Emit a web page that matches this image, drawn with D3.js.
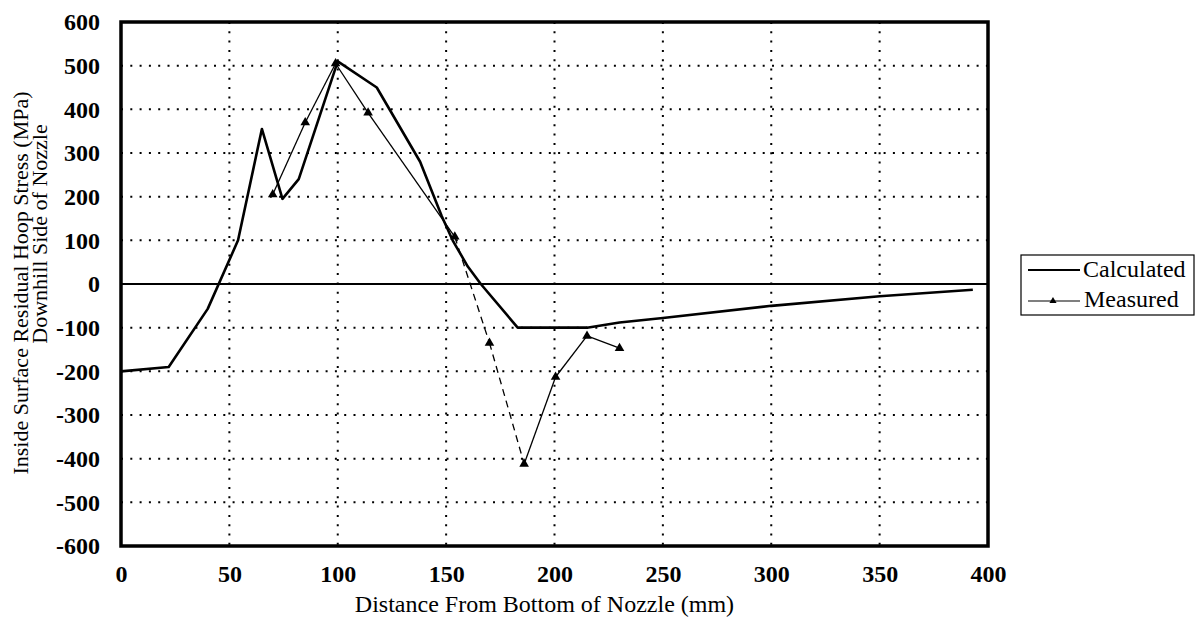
<!DOCTYPE html>
<html><head><meta charset="utf-8">
<script src="https://cdn.jsdelivr.net/npm/d3@7"></script>
<style>
body{margin:0;background:#fff;}
svg{display:block;}
text{font-family:"Liberation Serif","Times New Roman",serif !important;fill:#000;}
</style></head>
<body><svg id="c" width="1199" height="624"></svg>
<script>
const xTicks = [0,50,100,150,200,250,300,350,400];
const yTicks = [-600,-500,-400,-300,-200,-100,0,100,200,300,400,500,600];
const calcX = [0,22,40,54,65,74.5,82,100,118,138,148,153,160,166,183,215,230,250,300,350,393];
const calcY = [-200,-190,-57,100,355,195,240,510,450,280,155,100,40,0,-100,-100,-88,-78,-50,-28,-13];
const measX = [70,85,99,114,154,170,186,200.5,215,230];
const measY = [205,370,505,392,108,-135,-412,-213,-119,-147];
const seriesNames = ["Calculated","Measured"];
const xTitle = "Distance From Bottom of Nozzle (mm)";
const yTitle1 = "Inside Surface Residual Hoop Stress (MPa)";
const yTitle2 = "Downhill Side of Nozzle";

const svg = d3.select("#c");
const L=121, T=22, W=867, H=524;
const x = d3.scaleLinear().domain([0,400]).range([L,L+W]);
const y = d3.scaleLinear().domain([-600,600]).range([T+H,T]);
const fmt = d => String(d);

// grid
const g = svg.append("g");
g.selectAll(".vg").data(xTicks.filter(d=>d>0&&d<400)).enter().append("line")
 .attr("x1",d=>x(d)).attr("x2",d=>x(d)).attr("y1",T).attr("y2",T+H)
 .attr("stroke","#000").attr("stroke-width",2).attr("stroke-dasharray","2 7.3");
g.selectAll(".hg").data(yTicks.filter(d=>d>-600&&d<600&&d!==0)).enter().append("line")
 .attr("x1",L).attr("x2",L+W).attr("y1",d=>y(d)).attr("y2",d=>y(d))
 .attr("stroke","#000").attr("stroke-width",2).attr("stroke-dasharray","2 7.3");
g.append("line").attr("x1",L).attr("x2",L+W).attr("y1",y(0)).attr("y2",y(0))
 .attr("stroke","#000").attr("stroke-width",2.2);

// axes
const ya = svg.append("g").attr("transform",`translate(${L},0)`)
 .call(d3.axisLeft(y).tickValues(yTicks).tickSize(0).tickPadding(21).tickFormat(fmt));
ya.select(".domain").remove();
ya.selectAll("text").style("font-size","24px").style("font-weight","bold");
const xa = svg.append("g").attr("transform",`translate(0,${T+H})`)
 .call(d3.axisBottom(x).tickValues(xTicks).tickSize(0).tickPadding(19).tickFormat(fmt));
xa.select(".domain").remove();
xa.selectAll("text").style("font-size","24px").style("font-weight","bold");

// border
svg.append("rect").attr("x",L).attr("y",T).attr("width",W).attr("height",H)
 .attr("fill","none").attr("stroke","#000").attr("stroke-width",3.5);

// lines
const line = d3.line().x(d=>x(d[0])).y(d=>y(d[1]));
svg.append("path").datum(calcX.map((v,i)=>[v,calcY[i]])).attr("d",line)
 .attr("fill","none").attr("stroke","#000").attr("stroke-width",2.6).attr("stroke-linejoin","round");
const mData = measX.map((v,i)=>[v,measY[i]]);
const segs = d3.pairs(mData);
svg.selectAll(".seg").data(segs).enter().append("path")
 .attr("d",d=>line(d)).attr("fill","none").attr("stroke","#000").attr("stroke-width",1.3)
 .attr("stroke-dasharray",(d,i)=> (i===4||i===5) ? "7 5" : null);
const tri = d3.symbol().type(d3.symbolTriangle).size(40);
svg.selectAll(".m").data(mData).enter().append("path")
 .attr("d",tri).attr("transform",d=>`translate(${x(d[0])},${y(d[1])})`).attr("fill","#000");

// titles
svg.append("text").attr("x",L+W/2-10).attr("y",612).attr("text-anchor","middle")
 .style("font-size","24px").text(xTitle);
svg.append("text").attr("transform","translate(28,283) rotate(-90)").attr("text-anchor","middle")
 .style("font-size","22px").text(yTitle1);
svg.append("text").attr("transform","translate(47,234) rotate(-90)").attr("text-anchor","middle")
 .style("font-size","22px").text(yTitle2);

// legend
const lg = svg.append("g");
lg.append("rect").attr("x",1021).attr("y",255).attr("width",173).attr("height",60)
 .attr("fill","none").attr("stroke","#000").attr("stroke-width",1.2);
lg.append("line").attr("x1",1028).attr("x2",1080).attr("y1",270).attr("y2",270)
 .attr("stroke","#000").attr("stroke-width",2);
lg.append("text").attr("x",1083).attr("y",277).style("font-size","24px").text(seriesNames[0]);
lg.append("line").attr("x1",1028).attr("x2",1080).attr("y1",301).attr("y2",301)
 .attr("stroke","#000").attr("stroke-width",1.2);
lg.append("path").attr("d",d3.symbol().type(d3.symbolTriangle).size(22)).attr("transform","translate(1053,301)").attr("fill","#000");
lg.append("text").attr("x",1084).attr("y",307).style("font-size","24px").text(seriesNames[1]);
</script></body></html>
